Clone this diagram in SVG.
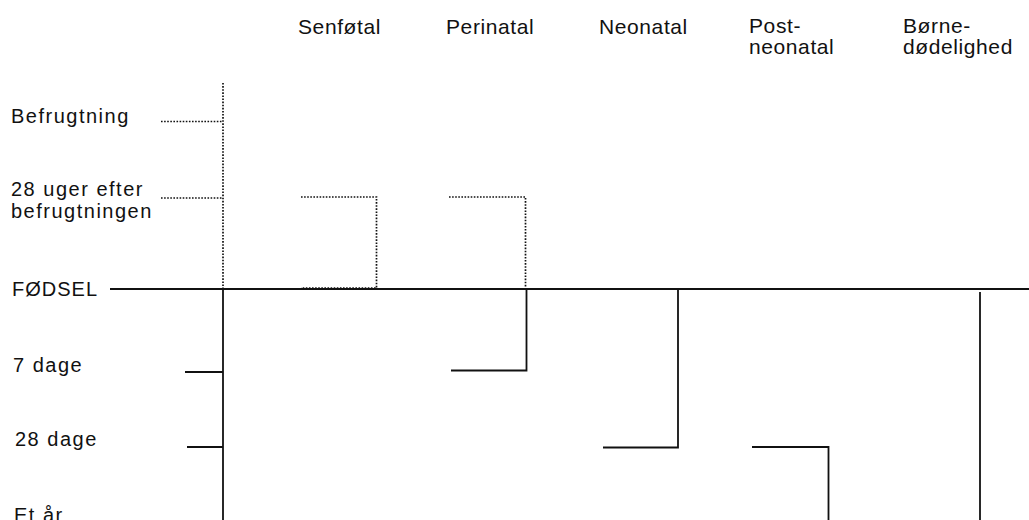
<svg xmlns="http://www.w3.org/2000/svg" width="1029" height="520" viewBox="0 0 1029 520">
<style>
text{font-family:"Liberation Sans",Arial,sans-serif;font-size:20px;letter-spacing:1.5px;fill:#111}
.hd{font-size:21px;letter-spacing:0.6px}
.s{fill:none;stroke:#111;stroke-width:1.8}
.d{fill:none;stroke:#111;stroke-width:1.7;stroke-dasharray:1.6 1.5}
</style>
<rect width="1029" height="520" fill="#fff"/>
<g id="headers">
<g id="h-senfotal"><text class="hd" x="298" y="34">Senføtal</text></g>
<g id="h-perinatal"><text class="hd" x="446" y="34">Perinatal</text></g>
<g id="h-neonatal"><text class="hd" x="599" y="34">Neonatal</text></g>
<g id="h-postneonatal"><text class="hd" x="749" y="33">Post-</text><text class="hd" x="749" y="54">neonatal</text></g>
<g id="h-borne"><text class="hd" x="903" y="33">Børne-</text><text class="hd" x="903" y="54">dødelighed</text></g>
</g>
<g id="labels">
<g id="l-befrugtning"><text x="11" y="123">Befrugtning</text></g>
<g id="l-28uger"><text x="11" y="196">28 uger efter</text><text x="11" y="218">befrugtningen</text></g>
<g id="l-fodsel"><text x="12" y="296" style="letter-spacing:1px">FØDSEL</text></g>
<g id="l-7dage"><text x="13" y="372">7 dage</text></g>
<g id="l-28dage"><text x="15" y="446">28 dage</text></g>
<g id="l-etar"><text x="14" y="522">Et år</text></g>
</g>
<g id="connectors">
<line class="s" x1="110" y1="289" x2="1029" y2="289"/>
<line class="d" x1="223" y1="83" x2="223" y2="289"/>
<line class="s" x1="223" y1="289" x2="223" y2="520"/>
<line class="d" x1="161" y1="121.5" x2="223" y2="121.5"/>
<line class="d" x1="161" y1="198" x2="223" y2="198"/>
<line class="s" x1="185" y1="372" x2="223" y2="372"/>
<line class="s" x1="187" y1="447" x2="223" y2="447"/>
<polyline class="d" points="301,197 376.5,197 376.5,288 301,288"/>
<polyline class="d" points="449,197 525.5,197 525.5,289"/>
<polyline class="s" points="526.5,289 526.5,370.5 451,370.5"/>
<polyline class="s" points="678,289 678,447.5 603,447.5"/>
<polyline class="s" points="752,447 828.5,447 828.5,520"/>
<line class="s" x1="980" y1="292" x2="980" y2="520"/>
</g>
</svg>
